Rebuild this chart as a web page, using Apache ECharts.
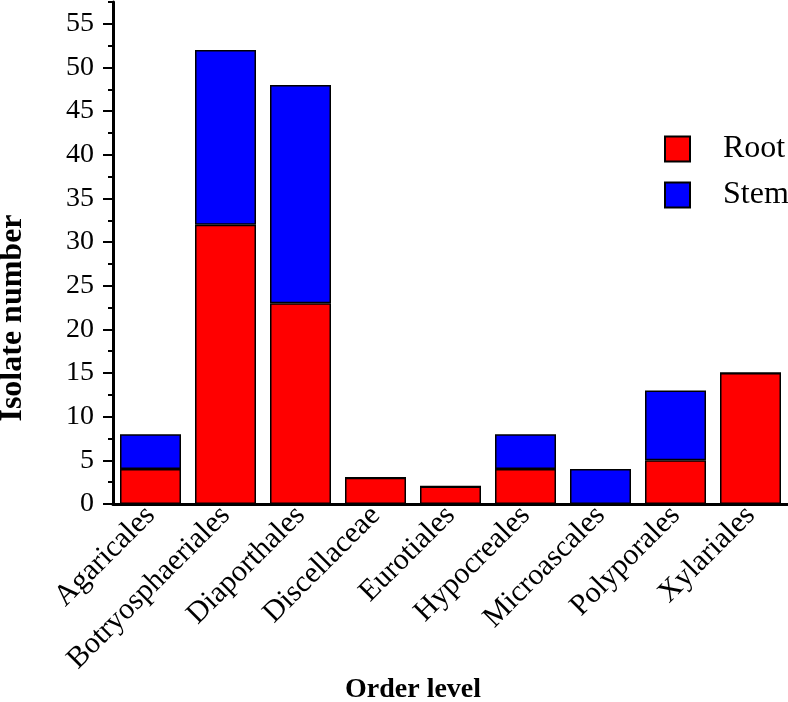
<!DOCTYPE html>
<html>
<head>
<meta charset="utf-8">
<script src="https://cdn.jsdelivr.net/npm/echarts@6/dist/echarts.min.js"></script>
<style>
html,body{margin:0;padding:0;background:#fff;}
#main{width:788px;height:702px;}
</style>
</head>
<body>
<div id="main"></div>
<script>
const categories = ['Agaricales','Botryosphaeriales','Diaporthales','Discellaceae','Eurotiales','Hypocreales','Microascales','Polyporales','Xylariales'];
const rootValues = [4, 32, 23, 3, 2, 4, 0, 5, 15];
const stemValues = [4, 20, 25, 0, 0, 4, 4, 8, 0];
const yTickLabels = [0, 5, 10, 15, 20, 25, 30, 35, 40, 45, 50, 55];
const yMinorTicks = [2.5, 7.5, 12.5, 17.5, 22.5, 27.5, 32.5, 37.5, 42.5, 47.5, 52.5, 57.5];

const FONT = '"Liberation Serif", "Times New Roman", serif';
const chart = echarts.init(document.getElementById('main'), null, {renderer: 'canvas'});
const barBorder = {borderColor: '#000', borderWidth: 1.5};
chart.setOption({
  animation: false,
  backgroundColor: '#fff',
  textStyle: {fontFamily: FONT},
  grid: {left: 113, right: 0, top: 2, bottom: 198, containLabel: false},
  title: {
    text: 'Order level', left: 345, top: 676, padding: 0,
    textStyle: {fontFamily: FONT, fontWeight: 'bold', fontSize: 28, color: '#000'}
  },
  graphic: [{
    type: 'text', x: 13, y: 318, rotation: Math.PI / 2,
    style: {text: 'Isolate number', fontFamily: FONT, fontWeight: 'bold', fontSize: 32, fill: '#000',
            align: 'center', verticalAlign: 'middle'}
  }],
  legend: {
    orient: 'vertical', left: 664, top: 133, itemWidth: 25, itemHeight: 25, itemGap: 14,
    padding: 0,
    icon: 'rect',
    textStyle: {fontFamily: FONT, fontSize: 32, color: '#000', padding: [0, 0, 0, 28]},
    data: ['Root', 'Stem']
  },
  xAxis: {
    type: 'category', data: categories,
    axisLine: {lineStyle: {color: '#000', width: 3}},
    axisTick: {show: false},
    axisLabel: {rotate: 45, fontFamily: FONT, fontSize: 30, color: '#000', margin: 7, interval: 0}
  },
  yAxis: [{
    type: 'value', min: 0, max: 57.5, interval: 2.5,
    axisLine: {show: true, lineStyle: {color: '#000', width: 3}},
    axisTick: {show: true, length: 10, lineStyle: {color: '#000', width: 2}, customValues: yTickLabels},
    axisLabel: {fontFamily: FONT, fontSize: 28, color: '#000', margin: 19, customValues: yTickLabels},
    splitLine: {show: false}
  }, {
    type: 'value', min: 0, max: 57.5, interval: 2.5, position: 'left',
    axisLine: {show: false},
    axisTick: {show: true, length: 5, lineStyle: {color: '#000', width: 2}, customValues: yMinorTicks},
    axisLabel: {show: false},
    splitLine: {show: false}
  }],
  series: [{
    name: 'Root', type: 'bar', stack: 'total', data: rootValues, barWidth: 61,
    itemStyle: Object.assign({color: '#ff0000'}, barBorder)
  }, {
    name: 'Stem', type: 'bar', stack: 'total', data: stemValues, barWidth: 61,
    itemStyle: Object.assign({color: '#0000ff'}, barBorder)
  }]
});
</script>
</body>
</html>
